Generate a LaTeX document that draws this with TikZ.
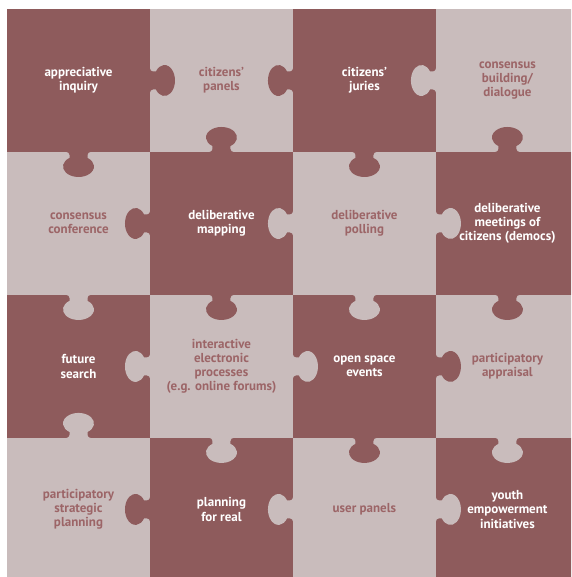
\documentclass[tikz,border=0pt]{standalone}
\usepackage{fontspec}
\setmainfont{PT Sans}
\usepackage{tikz}
\usetikzlibrary{positioning}

\definecolor{tiledark}{RGB}{142,91,92}
\definecolor{tilelight}{RGB}{201,188,188}
\definecolor{labeldark}{RGB}{156,101,103}

\begin{document}
\begin{tikzpicture}[
  x=0.02cm, y=0.02cm,
  tile/.style={rectangle, minimum width=2.86cm, minimum height=2.86cm, inner sep=0pt, outer sep=0pt, align=center, font=\fontsize{7.4}{8.1}\selectfont\bfseries},
  darktile/.style={tile, fill=tiledark, text=white},
  lighttile/.style={tile, fill=tilelight, text=labeldark},
  knob/.pic={
    \fill[pic actions] (-2,-12) -- (0,-12) arc[start angle=180, end angle=90, radius=3]
      -- (5.95,-9) arc[start angle=-144.5, end angle=144.5, x radius=10.5, y radius=15.5]
      -- (3,9) arc[start angle=-90, end angle=-180, radius=3] -- (-2,12) -- cycle;
  }
]
\useasboundingbox (0,0) rectangle (571,577);
\clip (0,0) rectangle (571,577);

% tiles, row by row
\node[darktile] (t11) at (78.5, 496.5) {appreciative\\inquiry};
\node[lighttile, right=0pt of t11] (t12) {citizens’\\panels};
\node[darktile, right=0pt of t12] (t13) {citizens’\\juries};
\node[lighttile, right=0pt of t13] (t14) {consensus\\building/\\dialogue};

\node[lighttile, below=0pt of t11] (t21) {consensus\\conference};
\node[darktile, right=0pt of t21] (t22) {deliberative\\mapping};
\node[lighttile, right=0pt of t22] (t23) {deliberative\\polling};
\node[darktile, right=0pt of t23] (t24) {deliberative\\meetings of\\citizens (democs)};

\node[darktile, below=0pt of t21] (t31) {future\\search};
\node[lighttile, right=0pt of t31] (t32) {interactive\\electronic\\processes\\(e.g. online forums)};
\node[darktile, right=0pt of t32] (t33) {open space\\events};
\node[lighttile, right=0pt of t33] (t34) {participatory\\appraisal};

\node[lighttile, below=0pt of t31] (t41) {participatory\\strategic\\planning};
\node[darktile, right=0pt of t41] (t42) {planning\\for real};
\node[lighttile, right=0pt of t42] (t43) {user panels};
\node[darktile, right=0pt of t43] (t44) {youth\\empowerment\\initiatives};

% knobs across vertical seams
\pic[fill=tiledark] at (t11.east) {knob};
\pic[fill=tiledark, rotate=180] at (t13.west) {knob};
\pic[fill=tilelight, rotate=180] at (t14.west) {knob};
\pic[fill=tiledark, rotate=180] at (t22.west) {knob};
\pic[fill=tilelight, rotate=180] at (t23.west) {knob};
\pic[fill=tilelight] at (t23.east) {knob};
\pic[fill=tilelight, rotate=180] at (t32.west) {knob};
\pic[fill=tilelight] at (t32.east) {knob};
\pic[fill=tiledark] at (t33.east) {knob};
\pic[fill=tiledark, rotate=180] at (t42.west) {knob};
\pic[fill=tilelight, rotate=180] at (t43.west) {knob};
\pic[fill=tilelight] at (t43.east) {knob};

% knobs across horizontal seams
\pic[fill=tiledark, rotate=-90] at (t11.south) {knob};
\pic[fill=tiledark, rotate=90] at (t22.north) {knob};
\pic[fill=tiledark, rotate=-90] at (t13.south) {knob};
\pic[fill=tiledark, rotate=90] at (t24.north) {knob};
\pic[fill=tilelight, rotate=-90] at (t21.south) {knob};
\pic[fill=tiledark, rotate=-90] at (t22.south) {knob};
\pic[fill=tilelight, rotate=-90] at (t23.south) {knob};
\pic[fill=tiledark, rotate=-90] at (t24.south) {knob};
\pic[fill=tilelight, rotate=90] at (t41.north) {knob};
\pic[fill=tilelight, rotate=-90] at (t32.south) {knob};
\pic[fill=tiledark, rotate=-90] at (t33.south) {knob};
\pic[fill=tilelight, rotate=-90] at (t34.south) {knob};

\end{tikzpicture}
\end{document}
